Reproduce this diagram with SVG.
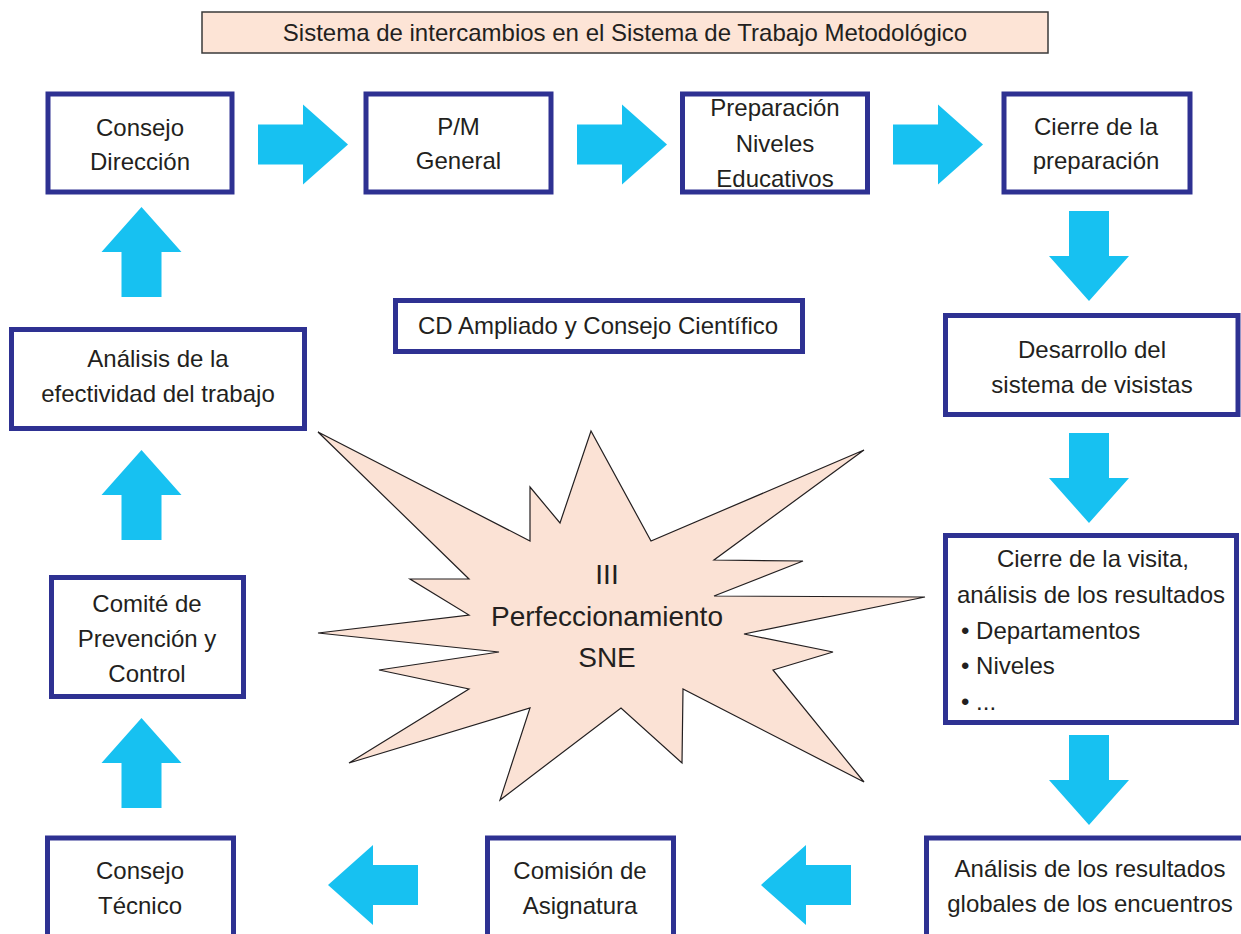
<svg xmlns="http://www.w3.org/2000/svg" width="1241" height="934" viewBox="0 0 1241 934">
<style>
  .box { fill: #ffffff; stroke: #2e3192; stroke-width: 5; }
  .title { fill: #fde4d6; stroke: #3a3a3a; stroke-width: 1.5; }
  .star { fill: #fbe2d5; stroke: #231f20; stroke-width: 1.2; stroke-linejoin: miter; }
  .t { font-family: "Liberation Sans", Arial, sans-serif; font-size: 24px; fill: #231f20; text-anchor: middle; }
  .tl { font-family: "Liberation Sans", Arial, sans-serif; font-size: 24px; fill: #231f20; text-anchor: start; }
  .ts { font-family: "Liberation Sans", Arial, sans-serif; font-size: 28px; fill: #231f20; text-anchor: middle; }
  .arr { fill: #17c1f1; }
</style>
<defs>
  <path id="arrR" d="M0,-20 H45 V-40 L90,0 L45,40 V20 H0 Z"/>
  <path id="arrL" d="M0,0 L45,-40 V-20 H90 V20 H45 V40 Z"/>
  <path id="arrU" d="M0,0 L40,45 H20 V90 H-20 V45 H-40 Z"/>
  <path id="arrD" d="M-20,0 H20 V45 H40 L0,90 L-40,45 H-20 Z"/>
</defs>
<rect width="1241" height="934" fill="#ffffff"/>

<g id="title">
  <rect class="title" x="202" y="12" width="846" height="41"/>
  <text class="t" x="625" y="41">Sistema de intercambios en el Sistema de Trabajo Metodológico</text>
</g>

<g id="connectors">
  <use href="#arrR" class="arr" x="258" y="144.5"/>
  <use href="#arrR" class="arr" x="577" y="144.5"/>
  <use href="#arrR" class="arr" x="893" y="144.5"/>
  <use href="#arrD" class="arr" x="1089" y="211"/>
  <use href="#arrD" class="arr" x="1089" y="433"/>
  <use href="#arrD" class="arr" x="1089" y="735"/>
  <use href="#arrL" class="arr" x="761" y="885"/>
  <use href="#arrL" class="arr" x="328" y="885"/>
  <use href="#arrU" class="arr" x="141.5" y="718"/>
  <use href="#arrU" class="arr" x="141.5" y="450"/>
  <use href="#arrU" class="arr" x="141.5" y="207"/>
</g>

<g id="consejo-direccion">
  <rect class="box" x="48" y="94" width="184" height="98"/>
  <text class="t" x="140" y="136">Consejo</text>
  <text class="t" x="140" y="170">Dirección</text>
</g>

<g id="pm-general">
  <rect class="box" x="366" y="94" width="185" height="98"/>
  <text class="t" x="458.5" y="135">P/M</text>
  <text class="t" x="458.5" y="169">General</text>
</g>

<g id="preparacion-niveles">
  <rect class="box" x="682.5" y="94" width="185" height="98"/>
  <text class="t" x="775" y="116">Preparación</text>
  <text class="t" x="775" y="152">Niveles</text>
  <text class="t" x="775" y="187">Educativos</text>
</g>

<g id="cierre-preparacion">
  <rect class="box" x="1004" y="94" width="186" height="98"/>
  <text class="t" x="1096" y="135">Cierre de la</text>
  <text class="t" x="1096" y="169">preparación</text>
</g>

<g id="cd-ampliado">
  <rect class="box" x="395.5" y="300.5" width="407" height="51"/>
  <text class="t" x="598" y="334">CD Ampliado y Consejo Científico</text>
</g>

<g id="desarrollo-visitas">
  <rect class="box" x="945.5" y="315.5" width="292.5" height="99"/>
  <text class="t" x="1092" y="358">Desarrollo del</text>
  <text class="t" x="1092" y="393">sistema de visistas</text>
</g>

<g id="cierre-visita">
  <rect class="box" x="945.5" y="535.5" width="291" height="187"/>
  <text class="t" x="1093" y="567">Cierre de la visita,</text>
  <text class="t" x="1091" y="603">análisis de los resultados</text>
  <text class="tl" x="961" y="639">• Departamentos</text>
  <text class="tl" x="961" y="674">• Niveles</text>
  <text class="tl" x="961" y="710">• ...</text>
</g>

<g id="analisis-resultados-globales">
  <rect class="box" x="926.5" y="838" width="330" height="120"/>
  <text class="t" x="1090" y="877">Análisis de los resultados</text>
  <text class="t" x="1090" y="912">globales de los encuentros</text>
</g>

<g id="comision-asignatura">
  <rect class="box" x="487.5" y="838" width="186" height="120"/>
  <text class="t" x="580" y="879">Comisión de</text>
  <text class="t" x="580" y="914">Asignatura</text>
</g>

<g id="consejo-tecnico">
  <rect class="box" x="47.5" y="838" width="186" height="120"/>
  <text class="t" x="140" y="879">Consejo</text>
  <text class="t" x="140" y="914">Técnico</text>
</g>

<g id="comite-prevencion">
  <rect class="box" x="51.5" y="577.5" width="192" height="119"/>
  <text class="t" x="147" y="612">Comité de</text>
  <text class="t" x="147" y="647">Prevención y</text>
  <text class="t" x="147" y="682">Control</text>
</g>

<g id="analisis-efectividad">
  <rect class="box" x="11.5" y="329.5" width="293" height="99"/>
  <text class="t" x="158" y="367">Análisis de la</text>
  <text class="t" x="158" y="402">efectividad del trabajo</text>
</g>

<g id="perfeccionamiento-sne">
  <polygon class="star" points="318,432 530,541 530,487 560,523 591,431 651,541 864,450 714,560 803,561 714,596 925,597 744,634 833,652 773,670 864,782 683,689 682,763 621,708 500,800 530,708 349,763 469,689 379,670 499,652 318,633 469,615 410,579 469,579"/>
  <text class="ts" x="607" y="584">III</text>
  <text class="ts" x="607" y="626">Perfeccionamiento</text>
  <text class="ts" x="607" y="667">SNE</text>
</g>
</svg>
